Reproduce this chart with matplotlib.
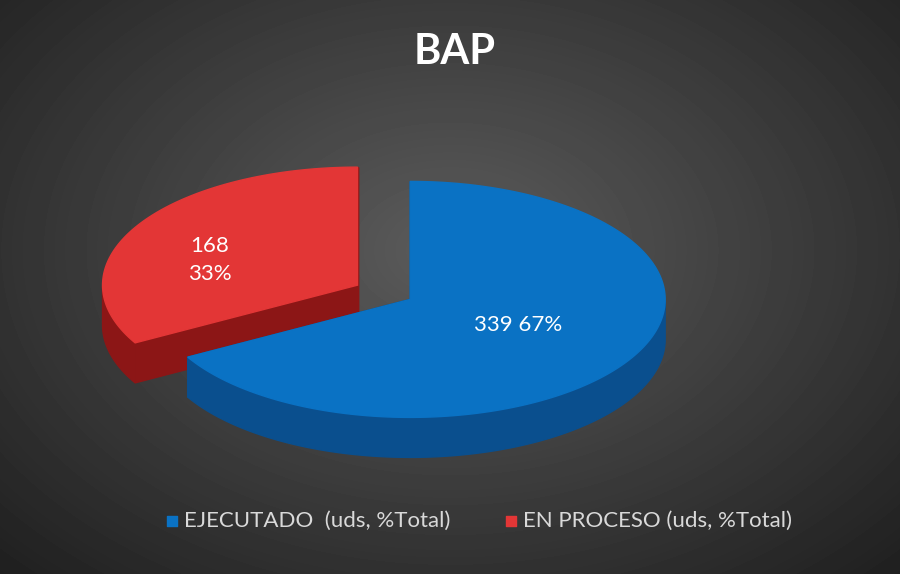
import matplotlib.pyplot as plt
import numpy as np
from matplotlib.patches import Polygon

plt.rcParams['font.family'] = ['Lato', 'DejaVu Sans']

labels = ["EJECUTADO  (uds, %Total)", "EN PROCESO (uds, %Total)"]
values = [339, 168]
top_colors = ["#0a72c4", "#e33636"]
side_colors = ["#0a4f8e", "#8c1616"]
explode = [6, 55]

W, H = 900, 574
fig = plt.figure(figsize=(9, 5.74), dpi=100)
ax = fig.add_axes([0, 0, 1, 1])
ax.set_xlim(0, W)
ax.set_ylim(H, 0)
ax.axis("off")

# radial background
yy, xx = np.mgrid[0:H, 0:W]
r = np.sqrt(((xx - 450) / 600) ** 2 + ((yy - 250) / 420) ** 2)
ax.imshow(np.clip(0.36 - 0.22 * r, 0.12, 0.4), cmap="gray", vmin=0, vmax=1,
          extent=[0, W, H, 0], zorder=0)

cx, cy, rx, ry, depth = 405, 298, 255, 118, 40
total = sum(values)
start = 90.0
slices = []
for v in values:
    span = 360.0 * v / total
    slices.append((start - span, start))  # clockwise from 12 o'clock
    start -= span

def pt(t, ox, oy, d=0):
    t = np.radians(t)
    return cx + ox + rx * np.cos(t), cy + oy - ry * np.sin(t) + d

for i in [1, 0]:
    a0, a1 = slices[i]
    mid = np.radians((a0 + a1) / 2)
    ox, oy = explode[i] * np.cos(mid), -explode[i] * np.sin(mid) * ry / rx
    c = (cx + ox, cy + oy)
    for a in (a0, a1):
        p = pt(a, ox, oy)
        ax.add_patch(Polygon([c, p, (p[0], p[1] + depth), (c[0], c[1] + depth)],
                             color=side_colors[i], zorder=2))
    ts = np.linspace(a0, a1, 200)
    ts = ts[np.sin(np.radians(ts)) <= 0]
    if len(ts):
        upper = [pt(t, ox, oy) for t in ts]
        lower = [pt(t, ox, oy, depth) for t in ts[::-1]]
        ax.add_patch(Polygon(upper + lower, color=side_colors[i], zorder=3))
    arc = [pt(t, ox, oy) for t in np.linspace(a0, a1, 200)]
    ax.add_patch(Polygon([c] + arc, color=top_colors[i], zorder=4))

pcts = [round(100 * v / total) for v in values]
ax.text(518, 325, f"{values[0]} {pcts[0]}%", color="white", fontsize=16,
        ha="center", va="center", zorder=5)
ax.text(210, 260, f"{values[1]}\n{pcts[1]}%", color="white", fontsize=16,
        ha="center", va="center", linespacing=1.5, zorder=5)

ax.text(455, 52, "BAP", color="white", fontsize=30, fontweight="bold",
        ha="center", va="center", zorder=5)

lx = [172, 511]
for i in range(2):
    ax.scatter(lx[i], 521, marker="s", s=50, color=top_colors[i], zorder=5)
    ax.text(lx[i] + 12, 521, labels[i], color="#d9d9d9", fontsize=16,
            ha="left", va="center", zorder=5)

fig.savefig("out.png", dpi=100)
